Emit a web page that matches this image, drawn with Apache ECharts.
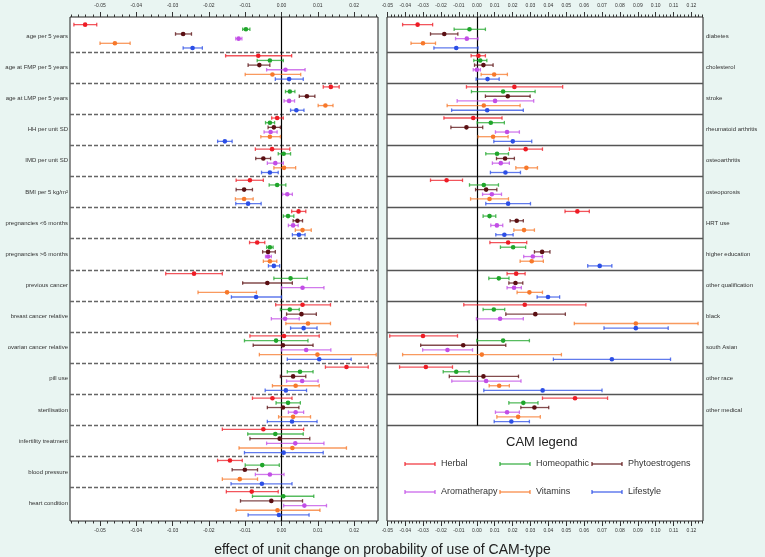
<!DOCTYPE html>
<html><head><meta charset="utf-8">
<script src="https://cdn.jsdelivr.net/npm/echarts@6/dist/echarts.min.js"></script>
<style>html,body{margin:0;padding:0;background:#e9f5f2;}#c{width:765px;height:557px;}</style>
</head><body><div id="c"></div>
<script>
// ---------- DATA ----------
const leftCategories = ["age per 5 years","age at FMP per 5 years","age at LMP per 5 years","HH per unit SD","IMD per unit SD","BMI per 5 kg/m\u00B2","pregnancies <6 months","pregnancies >6 months","previous cancer","breast cancer relative","ovarian cancer relative","pill use","sterilisation","infertility treatment","blood pressure","heart condition"];
const rightCategories = ["diabetes","cholesterol","stroke","rheumatoid arthritis","osteoarthritis","osteoporosis","HRT use","higher education","other qualification","black","south Asian","other race","other medical"];
const camNames = ["Herbal","Homeopathic","Phytoestrogens","Aromatherapy","Vitamins","Lifestyle"];
const camColors = ["#ee1c25","#1fa52a","#5a0f12","#c24de6","#f7782a","#2b4ee6"];
const leftTicks = [-0.05,-0.04,-0.03,-0.02,-0.01,0,0.01,0.02];
const rightTicks = [-0.05,-0.04,-0.03,-0.02,-0.01,0,0.01,0.02,0.03,0.04,0.05,0.06,0.07,0.08,0.09,0.10,0.11,0.12];

// [estimate, lower, upper]
const herbalLeft = [[-0.0541,-0.0572,-0.0509],[-0.0064,-0.0154,0.0028],[0.0136,0.0115,0.0159],[-0.0012,-0.0027,0.0005],[-0.0026,-0.0072,0.0023],[-0.0087,-0.0125,-0.0050],[0.0047,0.0028,0.0067],[-0.0067,-0.0088,-0.0046],[-0.0241,-0.0319,-0.0163],[0.0058,-0.0016,0.0135],[0.0007,-0.0087,0.0104],[0.0179,0.0121,0.0239],[-0.0025,-0.0080,0.0029],[-0.0050,-0.0163,0.0061],[-0.0142,-0.0176,-0.0108],[-0.0082,-0.0152,-0.0009]];
const homeoLeft = [[-0.0098,-0.0107,-0.0087],[-0.0032,-0.0067,0.0005],[0.0023,0.0011,0.0037],[-0.0032,-0.0044,-0.0019],[0.0006,-0.0009,0.0025],[-0.0012,-0.0034,0.0012],[0.0018,0.0005,0.0034],[-0.0032,-0.0041,-0.0023],[0.0025,-0.0021,0.0071],[0.0023,-0.0003,0.0049],[-0.0015,-0.0102,0.0073],[0.0051,0.0016,0.0087],[0.0018,-0.0015,0.0052],[-0.0017,-0.0093,0.0060],[-0.0053,-0.0100,-0.0006],[0.0005,-0.0080,0.0089]];
const phytoLeft = [[-0.0271,-0.0292,-0.0248],[-0.0061,-0.0092,-0.0032],[0.0070,0.0049,0.0092],[-0.0021,-0.0037,-0.0003],[-0.0050,-0.0071,-0.0030],[-0.0103,-0.0125,-0.0080],[0.0044,0.0032,0.0058],[-0.0037,-0.0052,-0.0017],[-0.0039,-0.0107,0.0030],[0.0055,0.0014,0.0096],[0.0004,-0.0078,0.0087],[0.0032,-0.0003,0.0067],[0.0004,-0.0039,0.0048],[-0.0005,-0.0087,0.0078],[-0.0101,-0.0136,-0.0066],[-0.0028,-0.0113,0.0058]];
const aromaLeft = [[-0.0118,-0.0126,-0.0109],[0.0011,-0.0041,0.0065],[0.0021,0.0007,0.0036],[-0.0030,-0.0048,-0.0012],[-0.0017,-0.0039,0.0005],[0.0016,0.0003,0.0030],[0.0032,0.0019,0.0046],[-0.0037,-0.0044,-0.0028],[0.0058,0.0000,0.0117],[0.0010,-0.0028,0.0049],[0.0068,0.0000,0.0136],[0.0057,0.0014,0.0101],[0.0039,0.0019,0.0061],[0.0038,-0.0041,0.0117],[-0.0032,-0.0072,0.0007],[0.0063,0.0006,0.0124]];
const vitLeft = [[-0.0459,-0.0500,-0.0417],[-0.0025,-0.0100,0.0053],[0.0121,0.0101,0.0142],[-0.0032,-0.0057,-0.0003],[0.0007,-0.0021,0.0039],[-0.0103,-0.0127,-0.0078],[0.0058,0.0038,0.0082],[-0.0032,-0.0050,-0.0013],[-0.0150,-0.0230,-0.0069],[0.0073,0.0012,0.0135],[0.0099,-0.0061,0.0261],[0.0039,-0.0025,0.0104],[0.0032,-0.0008,0.0080],[0.0030,-0.0117,0.0179],[-0.0115,-0.0163,-0.0066],[-0.0011,-0.0125,0.0106]];
const lifeLeft = [[-0.0245,-0.0271,-0.0218],[0.0021,-0.0017,0.0060],[0.0041,0.0025,0.0062],[-0.0156,-0.0176,-0.0136],[-0.0032,-0.0055,-0.0009],[-0.0092,-0.0126,-0.0056],[0.0048,0.0030,0.0065],[-0.0021,-0.0036,-0.0005],[-0.0070,-0.0138,0.0000],[0.0061,0.0025,0.0098],[0.0104,0.0016,0.0192],[0.0012,-0.0045,0.0069],[0.0029,-0.0039,0.0098],[0.0006,-0.0102,0.0115],[-0.0054,-0.0139,0.0029],[-0.0007,-0.0092,0.0076]];

const herbalRight = [[-0.0331,-0.0415,-0.0247],[0.0009,-0.0032,0.0048],[0.0210,-0.0058,0.0480],[-0.0020,-0.0184,0.0141],[0.0273,0.0182,0.0367],[-0.0169,-0.0259,-0.0080],[0.0562,0.0493,0.0629],[0.0175,0.0073,0.0279],[0.0220,0.0169,0.0270],[0.0268,-0.0073,0.0610],[-0.0301,-0.0487,-0.0108],[-0.0285,-0.0432,-0.0136],[0.0549,0.0367,0.0731]];
const homeoRight = [[-0.0041,-0.0127,0.0048],[0.0019,-0.0017,0.0056],[0.0147,-0.0030,0.0326],[0.0078,0.0002,0.0154],[0.0113,0.0050,0.0177],[0.0039,-0.0041,0.0121],[0.0071,0.0035,0.0106],[0.0203,0.0132,0.0273],[0.0123,0.0067,0.0180],[0.0095,0.0035,0.0156],[0.0147,0.0000,0.0294],[-0.0115,-0.0188,-0.0043],[0.0260,0.0179,0.0342]];
const phytoRight = [[-0.0182,-0.0259,-0.0106],[0.0037,-0.0013,0.0091],[0.0173,0.0048,0.0298],[-0.0058,-0.0145,0.0033],[0.0158,0.0110,0.0210],[0.0052,-0.0007,0.0112],[0.0223,0.0186,0.0260],[0.0365,0.0322,0.0409],[0.0216,0.0179,0.0257],[0.0327,0.0162,0.0495],[-0.0076,-0.0314,0.0162],[0.0037,-0.0154,0.0233],[0.0322,0.0246,0.0402]];
const aromaRight = [[-0.0056,-0.0119,0.0007],[0.0000,-0.0020,0.0020],[0.0102,-0.0110,0.0318],[0.0169,0.0104,0.0238],[0.0134,0.0087,0.0182],[0.0084,0.0032,0.0138],[0.0112,0.0078,0.0145],[0.0313,0.0262,0.0367],[0.0208,0.0169,0.0249],[0.0130,-0.0002,0.0260],[-0.0164,-0.0303,-0.0024],[0.0052,-0.0140,0.0247],[0.0169,0.0104,0.0238]];
const vitRight = [[-0.0301,-0.0368,-0.0231],[0.0097,0.0024,0.0171],[0.0039,-0.0166,0.0242],[0.0091,0.0007,0.0175],[0.0277,0.0218,0.0339],[0.0071,-0.0035,0.0177],[0.0264,0.0207,0.0322],[0.0307,0.0242,0.0372],[0.0294,0.0225,0.0367],[0.0889,0.0545,0.1237],[0.0028,-0.0415,0.0473],[0.0125,0.0069,0.0182],[0.0231,0.0112,0.0355]];
const lifeRight = [[-0.0115,-0.0240,0.0007],[0.0060,-0.0004,0.0125],[0.0058,-0.0141,0.0260],[0.0201,0.0095,0.0307],[0.0160,0.0076,0.0244],[0.0175,0.0050,0.0300],[0.0154,0.0106,0.0203],[0.0687,0.0620,0.0755],[0.0398,0.0337,0.0463],[0.0889,0.0711,0.1070],[0.0755,0.0428,0.1083],[0.0368,0.0039,0.0700],[0.0193,0.0097,0.0294]];

const leftSets = [herbalLeft, homeoLeft, phytoLeft, aromaLeft, vitLeft, lifeLeft];
const rightSets = [herbalRight, homeoRight, phytoRight, aromaRight, vitRight, lifeRight];

// ---------- LAYOUT ----------
const ROW = 0.15; // row spacing within a group (group spacing = 1)
const yMin = -0.62, yMax = 15.57;
const FONT = "'Liberation Sans', Arial, sans-serif";
function rowPos(g, r) { return g + (r - 2.5) * ROW; }
function minorList(a, b) { const out = []; for (let k = Math.ceil(a*500); k <= Math.floor(b*500); k++) out.push(k/500); return out; }

const leftRange = [-0.05827, 0.02659];
const rightRange = [-0.05022, 0.12645];

function xAxesFor(gridIndex, range, ticks) {
  const minor = minorList(range[0], range[1]);
  const base = {type:'value', gridIndex, min:range[0], max:range[1], splitLine:{show:false},
    axisLine:{show:false, onZero:false}};
  const major = (pos, margin) => Object.assign({}, base, {position:pos,
    axisTick:{show:true, length:5, customValues:ticks, lineStyle:{color:'#333', width:1}},
    axisLabel:{show:true, customValues:ticks, fontSize:5, color:'#333', fontFamily:FONT, margin, formatter:v=>v.toFixed(2)}});
  const mnr = (pos) => Object.assign({}, base, {position:pos,
    axisTick:{show:true, length:2.5, customValues:minor, lineStyle:{color:'#333', width:1}},
    axisLabel:{show:false}});
  return [major('bottom',7), major('top',9), mnr('bottom'), mnr('top')];
}

function makeRender(color) {
  return function (params, api) {
    const y = api.value(3);
    const pE = api.coord([api.value(0), y]);
    const pL = api.coord([api.value(1), y]);
    const pH = api.coord([api.value(2), y]);
    const h = 1.8;
    const ls = {stroke: color, lineWidth: 1.3, opacity: 0.75};
    return {type:'group', children:[
      {type:'line', shape:{x1:pL[0], y1:pL[1], x2:pH[0], y2:pH[1]}, style:ls},
      {type:'line', shape:{x1:pL[0], y1:pL[1]-h, x2:pL[0], y2:pL[1]+h}, style:ls},
      {type:'line', shape:{x1:pH[0], y1:pH[1]-h, x2:pH[0], y2:pH[1]+h}, style:ls},
      {type:'circle', shape:{cx:pE[0], cy:pE[1], r:2.3}, style:{fill:color}}
    ]};
  };
}

const series = [];
function addPanel(sets, xIdx, yIdx) {
  sets.forEach((set, c) => {
    series.push({
      type:'custom', name:camNames[c], xAxisIndex:xIdx, yAxisIndex:yIdx, z:5,
      renderItem: makeRender(camColors[c]),
      encode:{x:[0,1,2], y:3},
      data: set.map((d, g) => [d[0], d[1], d[2], rowPos(g, c)])
    });
  });
}
addPanel(leftSets, 0, 0);
addPanel(rightSets, 4, 1);

// separators + zero lines
const leftSeps = leftCategories.slice(1).map((_, i) => ({yAxis: i + 0.5}));
const rightSeps = rightCategories.map((_, i) => ({yAxis: i + 0.5}));
series.push({type:'line', xAxisIndex:0, yAxisIndex:0, data:[], z:2,
  markLine:{silent:true, symbol:'none', animation:false, label:{show:false},
    lineStyle:{color:'#666', width:1.3, type:[4,2]}, data:leftSeps}});
series.push({type:'line', xAxisIndex:0, yAxisIndex:0, data:[], z:3,
  markLine:{silent:true, symbol:'none', animation:false, label:{show:false},
    lineStyle:{color:'#000', width:1.2, type:'solid'}, data:[{xAxis:0}]}});
series.push({type:'line', xAxisIndex:4, yAxisIndex:1, data:[], z:2,
  markLine:{silent:true, symbol:'none', animation:false, label:{show:false},
    lineStyle:{color:'#555', width:1.3, type:'solid'}, data:rightSeps}});
series.push({type:'line', xAxisIndex:4, yAxisIndex:1, data:[], z:3,
  markLine:{silent:true, symbol:'none', animation:false, label:{show:false},
    lineStyle:{color:'#000', width:1.2, type:'solid'},
    data:[[{coord:[0, yMin]}, {coord:[0, rightCategories.length - 0.5]}]]}});

// legend (graphic)
const legendCols = [405, 500, 592];
const legendRows = [464, 492];
const graphic = [{type:'text', left:506, top:436, style:{text:'CAM legend', font:'13px ' + FONT, fill:'#222'}}];
camNames.forEach((n, i) => {
  const x = legendCols[i % 3], y = legendRows[Math.floor(i / 3)], col = camColors[i];
  const ls = {stroke: col, lineWidth: 1.3, opacity: 0.85};
  graphic.push({type:'line', shape:{x1:x, y1:y, x2:x+30, y2:y}, style:ls});
  graphic.push({type:'line', shape:{x1:x, y1:y-2, x2:x, y2:y+2}, style:ls});
  graphic.push({type:'line', shape:{x1:x+30, y1:y-2, x2:x+30, y2:y+2}, style:ls});
  graphic.push({type:'text', x:x+36, y:y, style:{text:n, font:'9px ' + FONT, fill:'#333', textVerticalAlign:'middle'}});
});

const chart = echarts.init(document.getElementById('c'), null, {renderer:'canvas'});
chart.setOption({
  animation:false,
  backgroundColor:'#e9f5f2',
  title:{text:'effect of unit change on probability of use of CAM-type', left:'center', top:538,
    textStyle:{fontSize:14, fontWeight:'normal', color:'#222', fontFamily:FONT}},
  grid:[
    {left:70, top:17, width:308, height:504, show:true, backgroundColor:'#fff', borderColor:'#222', borderWidth:1},
    {left:387, top:17, width:316, height:504, show:true, backgroundColor:'#fff', borderColor:'#222', borderWidth:1}
  ],
  xAxis: xAxesFor(0, leftRange, leftTicks).concat(xAxesFor(1, rightRange, rightTicks)),
  yAxis:[
    {type:'value', gridIndex:0, inverse:true, min:yMin, max:yMax, position:'left',
      axisLine:{show:false, onZero:false}, axisTick:{show:false}, splitLine:{show:false},
      axisLabel:{show:true, customValues:leftCategories.map((_, i) => i), fontSize:6, color:'#333', margin:2, fontFamily:FONT,
        formatter:v => leftCategories[Math.round(v)]}},
    {type:'value', gridIndex:1, inverse:true, min:yMin, max:yMax, position:'right',
      axisLine:{show:false, onZero:false}, axisTick:{show:false}, splitLine:{show:false},
      axisLabel:{show:true, customValues:rightCategories.map((_, i) => i), fontSize:6, color:'#333', margin:3, fontFamily:FONT,
        formatter:v => rightCategories[Math.round(v)]}}
  ],
  graphic: graphic,
  series: series
});
</script></body></html>
